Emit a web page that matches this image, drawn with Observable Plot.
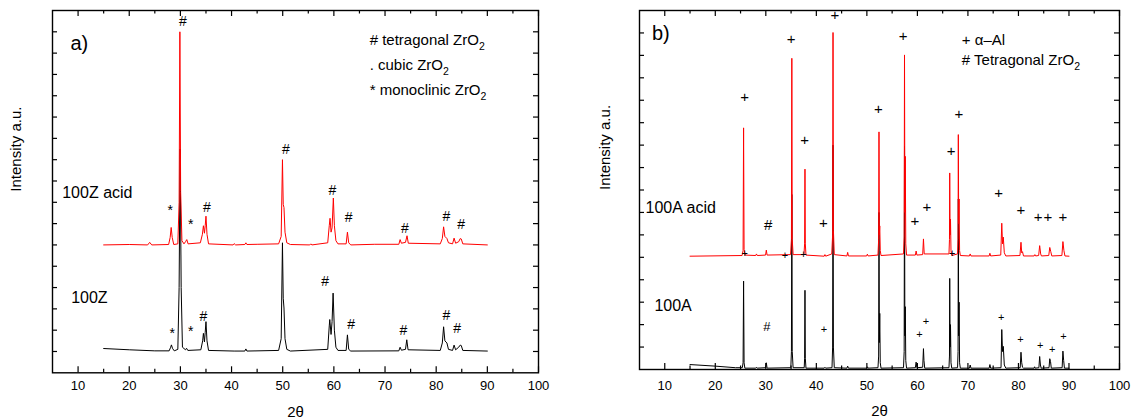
<!DOCTYPE html>
<html><head><meta charset="utf-8">
<script src="https://cdn.jsdelivr.net/npm/d3@7"></script>
<script src="https://cdn.jsdelivr.net/npm/@observablehq/plot@0.6"></script>
<style>
body{margin:0;background:#fff;}
#root{position:relative;width:1131px;height:419px;overflow:hidden;}
#root svg{position:absolute;top:0;}
</style></head><body><div id="root"></div>
<script>
// ---------- tick values ----------
const xTickLabels = [10,20,30,40,50,60,70,80,90,100];
const xMinorTicks = [15,25,35,45,55,65,75,85,95];
const yTicksA = [1,2,3,4,5,6,7,8,9,10,11,12,13,14,15,16];
const yTicksB = [1,2,3,4,5,6,7,8,9,10,11,12,13,14,15];

// ---------- panel a) traces: [2theta, intensity] ----------
const z100Acid = [
[15,6.0],[20,6.02],[23.6,6.0],[24.0,6.12],[24.4,6.0],[27.7,6.02],[28.0,6.35],[28.2,6.82],[28.4,6.35],[28.7,6.02],
[29.5,6.05],[29.75,8.0],[29.9,16.0],[30.05,8.5],[30.3,6.2],[30.7,6.05],[31.0,6.15],[31.25,6.25],[31.5,6.05],
[33.9,6.1],[34.3,6.5],[34.5,6.9],[34.7,6.55],[34.85,6.9],[35.0,7.35],[35.2,6.5],[35.5,6.05],
[40.3,6.0],[40.5,6.06],[40.8,6.0],[42.6,6.02],[42.8,6.1],[43.0,6.02],[45.0,6.03],[49.2,6.05],
[49.7,6.4],[49.95,10.0],[50.1,7.9],[50.25,7.75],[50.45,6.6],[50.8,6.1],[51.5,6.02],[55.3,6.0],[55.5,6.05],[55.7,6.0],
[58.8,6.1],[59.1,6.9],[59.25,7.25],[59.45,6.6],[59.65,6.8],[59.9,8.2],[60.1,6.9],[60.4,6.2],[60.8,6.05],
[62.4,6.05],[62.65,6.6],[62.9,6.1],[63.3,6.0],[68.0,6.03],[72.7,6.03],[72.95,6.25],[73.2,6.08],
[74.0,6.12],[74.3,6.43],[74.55,6.08],[80.8,6.05],[81.2,6.3],[81.45,6.85],[81.7,6.4],[82.1,6.3],[82.4,6.1],
[83.2,6.05],[83.5,6.32],[83.8,6.08],[84.4,6.15],[84.7,6.3],[84.9,6.28],[85.2,6.05],[90,6.0]
];
const z100 = [
[15,1.14],[20,1.08],[25,1.03],[27.8,1.03],[28.1,1.2],[28.25,1.31],[28.45,1.15],[28.8,1.03],
[29.5,1.1],[29.75,4.0],[29.95,10.5],[30.15,4.0],[30.4,1.2],[31.0,1.08],[31.2,1.15],[31.45,1.05],
[34.0,1.08],[34.35,1.5],[34.5,1.85],[34.7,1.45],[34.85,1.9],[35.0,2.4],[35.2,1.5],[35.5,1.05],
[40.5,1.02],[42.6,1.02],[42.8,1.12],[43.0,1.02],[49.2,1.05],[49.7,1.6],[49.95,6.1],[50.1,3.5],[50.25,3.04],
[50.45,1.6],[50.8,1.1],[51.5,1.02],[58.8,1.1],[59.1,2.2],[59.2,2.5],[59.45,1.8],[59.65,2.4],[59.85,3.74],
[60.1,2.0],[60.4,1.2],[60.8,1.05],[62.4,1.05],[62.65,1.78],[62.9,1.1],[63.3,1.02],[72.7,1.03],[72.95,1.2],
[73.2,1.06],[74.0,1.1],[74.25,1.55],[74.5,1.08],[80.8,1.05],[81.2,1.4],[81.45,2.16],[81.7,1.5],[82.1,1.4],
[82.4,1.1],[83.2,1.05],[83.5,1.3],[83.8,1.08],[84.4,1.2],[84.7,1.3],[84.9,1.28],[85.2,1.05],[90,1.02]
];
// ---------- panel b) traces ----------
const a100Acid = [
[15,5.05],[25.3,5.08],[25.5,5.3],[25.6,10.77],[25.7,5.35],[25.9,5.1],
[28.0,5.08],[28.15,5.15],[28.3,5.08],[29.95,5.1],[30.1,5.32],[30.25,5.1],
[34.9,5.12],[35.07,5.8],[35.15,13.87],[35.23,5.8],[35.4,5.12],
[37.55,5.12],[37.68,5.6],[37.75,8.93],[37.82,5.6],[37.95,5.1],
[41.55,5.05],[41.7,5.12],[41.85,5.05],
[43.05,5.15],[43.22,6.0],[43.3,15.02],[43.38,6.2],[43.55,5.12],
[46.05,5.06],[46.2,5.22],[46.35,5.06],[49.95,5.06],[50.1,5.14],[50.25,5.06],
[52.2,5.1],[52.33,5.8],[52.4,10.59],[52.47,6.0],[52.55,6.4],[52.65,5.3],[52.8,5.08],
[57.25,5.15],[57.38,5.9],[57.45,14.02],[57.52,7.0],[57.6,9.5],[57.7,5.6],[57.85,5.1],
[59.6,5.1],[59.75,5.28],[59.9,5.1],[61.05,5.12],[61.2,5.82],[61.35,5.15],
[66.25,5.15],[66.35,5.8],[66.4,8.76],[66.47,6.0],[66.55,6.7],[66.65,5.3],[66.8,5.08],
[67.95,5.15],[68.05,5.8],[68.1,10.47],[68.17,6.5],[68.25,7.6],[68.35,5.3],[68.5,5.08],
[70.3,5.06],[70.45,5.15],[70.6,5.06],[74.2,5.06],[74.35,5.18],[74.5,5.06],
[76.5,5.1],[76.7,6.52],[76.85,5.6],[77.0,5.9],[77.2,5.2],[77.5,5.06],
[80.3,5.08],[80.5,5.67],[80.65,5.2],[80.8,5.25],[81.0,5.06],[83.1,5.06],[83.25,5.12],[83.4,5.06],
[84.0,5.08],[84.2,5.52],[84.4,5.15],[84.55,5.06],[86.0,5.08],[86.2,5.44],[86.4,5.25],[86.6,5.06],
[88.6,5.08],[88.8,5.7],[89.0,5.3],[89.2,5.06],[90,5.05]
];
const a100 = [
[15,0.22],[20,0.15],[24.0,0.08],[25.35,0.08],[25.5,0.3],[25.6,3.94],[25.7,0.3],[25.85,0.06],
[28.0,0.06],[28.15,0.1],[28.3,0.06],[29.95,0.08],[30.1,0.3],[30.25,0.06],
[34.95,0.08],[35.07,0.8],[35.15,7.8],[35.23,0.8],[35.4,0.08],
[37.6,0.08],[37.68,0.5],[37.75,3.53],[37.82,0.5],[37.95,0.06],
[41.55,0.06],[41.7,0.1],[41.85,0.06],
[43.1,0.08],[43.22,1.0],[43.3,10.0],[43.38,1.0],[43.55,0.08],
[46.05,0.06],[46.2,0.15],[46.35,0.06],[49.95,0.06],[50.1,0.12],[50.25,0.06],
[52.2,0.08],[52.33,0.6],[52.4,7.0],[52.47,1.2],[52.55,2.5],[52.65,0.3],[52.8,0.06],
[57.25,0.08],[57.38,0.8],[57.45,9.95],[57.52,1.5],[57.6,2.8],[57.7,0.4],[57.85,0.06],
[59.6,0.08],[59.75,0.33],[59.9,0.08],[61.05,0.1],[61.2,0.93],[61.3,0.4],[61.45,0.06],
[66.25,0.08],[66.35,0.6],[66.4,4.06],[66.47,1.0],[66.55,2.0],[66.65,0.3],[66.8,0.06],
[67.95,0.08],[68.05,0.8],[68.1,7.6],[68.17,1.5],[68.25,3.0],[68.35,0.3],[68.5,0.06],
[70.3,0.06],[70.45,0.2],[70.6,0.06],[74.2,0.06],[74.35,0.22],[74.5,0.06],
[76.55,0.08],[76.7,1.78],[76.85,0.8],[77.0,1.03],[77.2,0.2],[77.5,0.06],
[80.35,0.08],[80.5,0.77],[80.65,0.3],[80.8,0.1],[81.0,0.06],[83.1,0.06],[83.2,0.12],[83.3,0.06],
[84.05,0.08],[84.2,0.58],[84.35,0.2],[84.5,0.06],[86.05,0.08],[86.2,0.48],[86.35,0.35],[86.5,0.06],
[88.65,0.08],[88.8,0.82],[88.95,0.4],[89.1,0.06],[90,0.06]
];

// ---------- annotations [x, y, text] ----------
const zAcidMarks = [[30.5,16.5,"#"],[50.6,10.47,"#"],[59.7,8.56,"#"],[28.0,7.62,"*"],[32.0,6.96,"*"],
  [35.2,7.77,"#"],[62.9,7.3,"#"],[73.9,6.76,"#"],[82.0,7.34,"#"],[84.9,6.95,"#"]];
const zMarks = [[28.4,1.83,"*"],[32.0,1.94,"*"],[34.5,2.64,"#"],[58.3,4.29,"#"],[63.4,2.27,"#"],
  [73.6,1.99,"#"],[82.0,2.69,"#"],[84.1,2.09,"#"]];
const aAcidMarks = [[25.8,12.13,"+"],[35.0,14.71,"+"],[43.65,15.78,"+"],[37.7,10.24,"+"],[52.3,11.59,"+"],
  [57.2,14.85,"+"],[66.7,9.71,"+"],[68.2,11.36,"+"],[76.1,7.86,"+"],[61.9,7.23,"+"],[59.5,6.6,"+"],
  [80.5,7.09,"+"],[83.9,6.79,"+"],[85.8,6.79,"+"],[88.8,6.79,"+"],[30.45,6.45,"#"],[41.4,6.52,"+"]];
const aAcidBaseMarks = [[25.8,5.16,"+"],[33.8,5.06,"+"],[37.45,5.14,"+"],[66.9,5.17,"+"]];
const aHashMarks = [[30.2,1.89,"#"]];
const aMarks = [[41.5,1.78,"+"],[60.4,1.56,"+"],[61.7,2.15,"+"],[76.6,2.33,"+"],[80.4,1.35,"+"],
  [84.3,1.07,"+"],[86.7,0.89,"+"],[88.9,1.47,"+"]];

// ---------- labels [x, y, text] ----------
const aLabels = [[6.9,8.43,"100Z acid"],[8.65,3.52,"100Z"]];
const aLegend = [[67.0,15.63,"# tetragonal ZrO2"],[67.0,14.43,". cubic ZrO2"],[67.0,13.26,"* monoclinic ZrO2"]];
const bLabels = [[6.2,7.2,"100A acid"],[7.95,2.85,"100A"]];
const bLegend = [[68.8,14.69,"+ α–Al"],[68.8,13.77,"# Tetragonal ZrO2"]];
const panelTags = ["a)","b)"];
const axisTitles = ["Intensity a.u.","2θ"];

const FONT = '"Liberation Sans", Arial, Helvetica, sans-serif';

function txt(data, size, anchor="middle") {
  return Plot.text(data, {x: d=>d[0], y: d=>d[1], text: d=>d[2], fontSize: size,
    textAnchor: anchor, lineAnchor: "middle", fill: "black"});
}

function panel(cfg) {
  const plotH = cfg.height - cfg.marginTop - cfg.marginBottom;
  const plotW = cfg.width - cfg.marginLeft - cfg.marginRight;
  const svg = Plot.plot({
    width: cfg.width, height: cfg.height,
    marginLeft: cfg.marginLeft, marginRight: cfg.marginRight,
    marginTop: cfg.marginTop, marginBottom: cfg.marginBottom,
    style: {fontFamily: FONT, fontSize: "13px", color: "black", background: "white", overflow: "visible"},
    x: {domain: [5,100], label: null},
    y: {domain: [0, cfg.yMax], axis: null},
    marks: [
      Plot.line(cfg.black, {x: d=>d[0], y: d=>d[1], stroke: "black", strokeWidth: 1}),
      Plot.line(cfg.red, {x: d=>d[0], y: d=>d[1], stroke: "#ff0000", strokeWidth: 1}),
      ...cfg.marks,
      Plot.ruleX(xTickLabels, {x: d=>d, insetTop: plotH - 6, stroke: "black", strokeWidth: 1.2}),
      Plot.ruleX(xMinorTicks, {x: d=>d, insetTop: plotH - 3.5, stroke: "black", strokeWidth: 1.2}),
      Plot.ruleX(xTickLabels, {x: d=>d, insetBottom: plotH - 6, stroke: "black", strokeWidth: 1.2}),
      Plot.ruleX(xMinorTicks, {x: d=>d, insetBottom: plotH - 3.5, stroke: "black", strokeWidth: 1.2}),
      Plot.ruleY(cfg.yTicks, {y: d=>d, insetRight: plotW - 5, stroke: "black", strokeWidth: 1.2}),
      Plot.ruleY(cfg.yTicks, {y: d=>d, insetLeft: plotW - 5, stroke: "black", strokeWidth: 1.2}),
      Plot.frame({stroke: "black", strokeWidth: 1.4}),
      Plot.axisX(xTickLabels, {tickSize: 0, tickPadding: cfg.tickPad, fontSize: 13, label: null, fill: "black"}),
      Plot.text([axisTitles[1]], {frameAnchor: "bottom", dy: cfg.xTitleDy, text: d=>d, fontSize: 15, lineAnchor: "middle", fill: "black"}),
      Plot.text([axisTitles[0]], {frameAnchor: "left", dx: cfg.yTitleDx, rotate: -90, text: d=>d, fontSize: 15, lineAnchor: "middle", fill: "black"}),
      txt([[cfg.tagX, cfg.tagY, cfg.tag]], 20, "start"),
      txt(cfg.labels, 16, "start"),
      txt(cfg.legend, 15, "start")
    ]
  });
  svg.style.left = cfg.left + "px";
  // subscript "2" in ZrO2
  svg.querySelectorAll("text").forEach(t => {
    if (t.childElementCount === 0 && /ZrO2$/.test(t.textContent)) {
      const s = t.textContent;
      t.textContent = s.slice(0, -1);
      const ts = document.createElementNS("http://www.w3.org/2000/svg", "tspan");
      ts.setAttribute("font-size", "10.5");
      ts.setAttribute("dy", "5");
      ts.textContent = "2";
      t.appendChild(ts);
    }
  });
  return svg;
}

const root = document.getElementById("root");
root.appendChild(panel({
  left: 0, width: 565, height: 419, marginLeft: 52, marginRight: 27, marginTop: 10, marginBottom: 46.7,
  yMax: 17, yTicks: yTicksA, black: z100, red: z100Acid, tickPad: 8, xTitleDy: 39, yTitleDx: -36,
  tag: panelTags[0], tagX: 8.5, tagY: 15.44, labels: aLabels, legend: aLegend,
  marks: [txt(zAcidMarks, 14), txt(zMarks, 14)]
}));
root.appendChild(panel({
  left: 565, width: 566, height: 419, marginLeft: 74, marginRight: 12, marginTop: 10, marginBottom: 50,
  yMax: 16, yTicks: yTicksB, black: a100, red: a100Acid, tickPad: 11, xTitleDy: 42, yTitleDx: -34,
  tag: panelTags[1], tagX: 7.46, tagY: 14.96, labels: bLabels, legend: bLegend,
  marks: [txt(aAcidMarks, 15), txt(aAcidBaseMarks, 11), txt(aHashMarks, 13), txt(aMarks, 11)]
}));
</script>
</body></html>
